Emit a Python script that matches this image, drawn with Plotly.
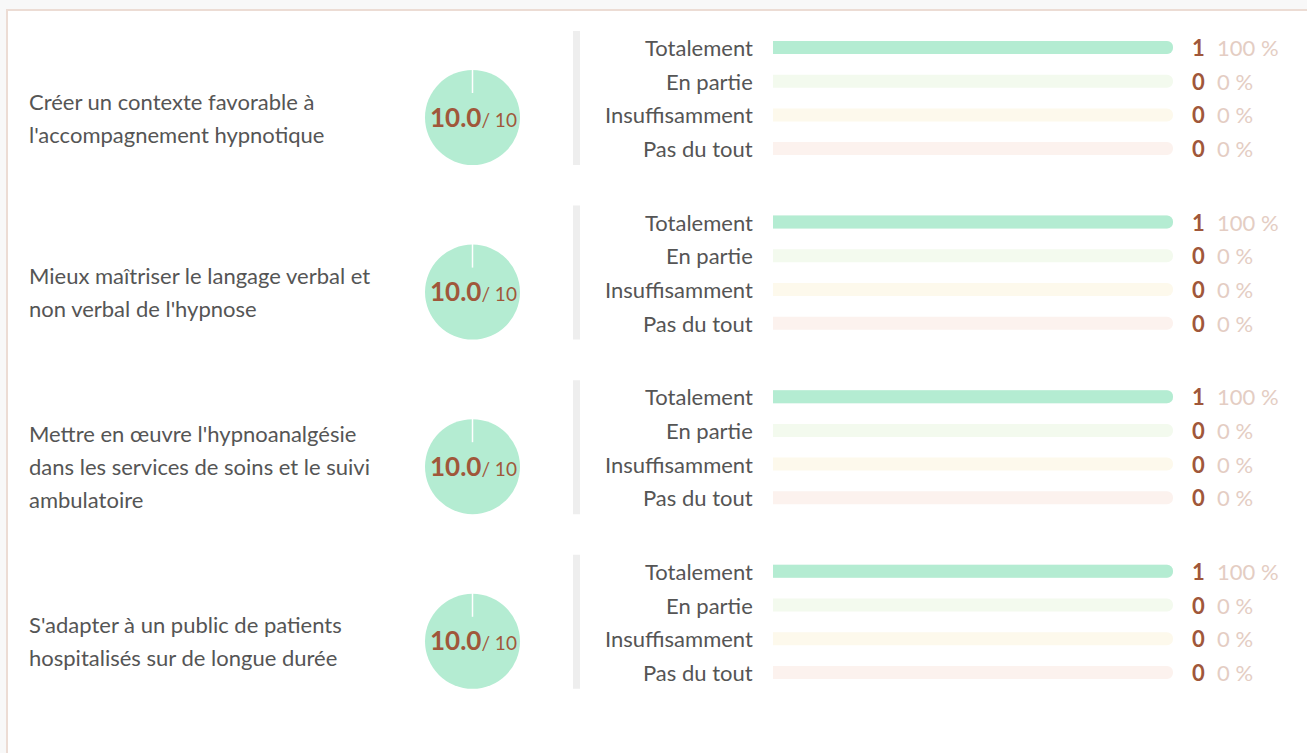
import plotly.graph_objects as go

# ---- data -------------------------------------------------------------
objectives = [
    ["Créer un contexte favorable à", "l'accompagnement hypnotique"],
    ["Mieux maîtriser le langage verbal et", "non verbal de l'hypnose"],
    ["Mettre en œuvre l'hypnoanalgésie", "dans les services de soins et le suivi", "ambulatoire"],
    ["S'adapter à un public de patients", "hospitalisés sur de longue durée"],
]
scores = [10.0, 10.0, 10.0, 10.0]
score_max = 10
answers = ["Totalement", "En partie", "Insuffisamment", "Pas du tout"]
counts = [
    [1, 0, 0, 0],
    [1, 0, 0, 0],
    [1, 0, 0, 0],
    [1, 0, 0, 0],
]

# ---- styling ----------------------------------------------------------
W, H = 1307, 753
FONT = "Lato, 'Open Sans', sans-serif"
TEXT = "#555555"
BROWN = "#a0573a"
PCT = "#e4cdc3"
PIE_FILL = "#b4ecd2"
fill_colors = ["#b4ecd2", "#d3efc3", "#f6e7b0", "#f3cdbd"]
track_colors = ["#e9f8f0", "#f3faee", "#fdf9ec", "#fcf2ee"]

ROW_TOP0 = 31
ROW_STEP = 174.6
BLOCK_H = 134
BAR_STEP = 33.7
BAR_X0, BAR_X1 = 773, 1173
PIE_CX, PIE_R = 472.5, 47.5
FS = 22


def px(x):
    return x / W


fig = go.Figure()
annotations = []
shapes = []

# page card
shapes.append(dict(type="rect", xref="paper", yref="paper",
                   x0=px(7), x1=px(1320), y0=-0.1, y1=1 - 10 / H,
                   line=dict(color="#ecdcd4", width=2), fillcolor="white", layer="below"))

for r, (lines, score, cnt) in enumerate(zip(objectives, scores, counts)):
    top = ROW_TOP0 + r * ROW_STEP
    pie_cy = top + 86.5
    bar_ys = [top + 16.5 + j * BAR_STEP for j in range(len(answers))]
    total = sum(cnt)
    shares = [c / total * 100 if total else 0 for c in cnt]

    # objective title, one annotation per line
    n = len(lines)
    for i, line in enumerate(lines):
        annotations.append(dict(
            text=line, xref="paper", yref="y", x=px(27), y=pie_cy + (i - (n - 1) / 2) * 33,
            xanchor="left", yanchor="middle", showarrow=False, align="left",
            font=dict(family=FONT, size=FS, color=TEXT)))

    # score pie
    fig.add_trace(go.Pie(
        values=[score, score_max - score], sort=False, direction="clockwise", rotation=0,
        marker=dict(colors=[PIE_FILL, "#ffffff"], line=dict(width=0)),
        textinfo="none", hoverinfo="skip", showlegend=False,
        domain=dict(x=[px(PIE_CX - PIE_R), px(PIE_CX + PIE_R)],
                    y=[1 - (pie_cy + PIE_R) / H, 1 - (pie_cy - PIE_R) / H])))
    shapes.append(dict(type="line", xref="paper", yref="y",
                       x0=px(PIE_CX), x1=px(PIE_CX), y0=pie_cy - PIE_R - 1, y1=pie_cy - PIE_R + 23,
                       line=dict(color="white", width=1.5)))
    annotations.append(dict(
        text=f"<b>{score:.1f}</b><span style='font-size:19px'>/ {score_max}</span>",
        xref="paper", yref="y", x=px(PIE_CX + 1), y=pie_cy - 1, xanchor="center", yanchor="middle",
        showarrow=False, font=dict(family=FONT, size=26, color=BROWN)))

    # separator
    shapes.append(dict(type="rect", xref="paper", yref="y", x0=px(573), x1=px(580),
                       y0=top, y1=top + BLOCK_H, line=dict(width=0), fillcolor="#eeeeee"))

    # tracks and filled bars
    fig.add_trace(go.Bar(
        x=[100] * len(answers), y=bar_ys, orientation="h", width=13,
        marker=dict(color=track_colors, line=dict(width=0)),
        hoverinfo="skip", showlegend=False))
    fig.add_trace(go.Bar(
        x=shares, y=bar_ys, orientation="h", width=13,
        marker=dict(color=fill_colors, line=dict(width=0)),
        hoverinfo="skip", showlegend=False))

    for ans, c, s, y in zip(answers, cnt, shares, bar_ys):
        annotations.append(dict(
            text=ans, xref="paper", yref="y", x=px(755), y=y, xanchor="right", yanchor="middle",
            showarrow=False, font=dict(family=FONT, size=FS, color=TEXT)))
        annotations.append(dict(
            text=f"<b>{c}</b>", xref="paper", yref="y", x=px(1207), y=y, xanchor="right",
            yanchor="middle", showarrow=False, font=dict(family=FONT, size=FS, color=BROWN)))
        annotations.append(dict(
            text=f"{s:.0f} %", xref="paper", yref="y", x=px(1215), y=y, xanchor="left",
            yanchor="middle", showarrow=False, font=dict(family=FONT, size=FS, color=PCT)))

fig.update_layout(
    width=W, height=H, margin=dict(l=0, r=0, t=0, b=0),
    paper_bgcolor="#f8f8f8", plot_bgcolor="rgba(0,0,0,0)",
    barmode="overlay", barcornerradius=6.5,
    xaxis=dict(domain=[px(BAR_X0), px(BAR_X1)], range=[0, 100], visible=False, fixedrange=True),
    yaxis=dict(domain=[0, 1], range=[H, 0], visible=False, fixedrange=True),
    shapes=shapes, annotations=annotations,
)

fig.write_html("out.html")
